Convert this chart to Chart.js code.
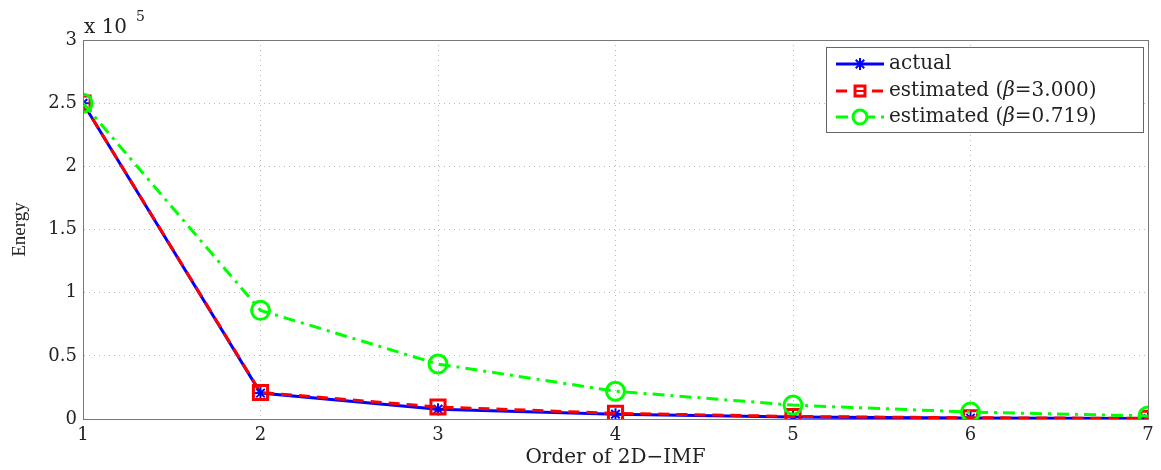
<!DOCTYPE html>
<html>
<head>
<meta charset="utf-8">
<script src="https://cdn.jsdelivr.net/npm/chart.js@4.4.0/dist/chart.umd.min.js"></script>
<style>
  html, body { margin: 0; padding: 0; background: #fff; }
  #wrap { width: 1161px; height: 470px; }
</style>
</head>
<body>
<div id="wrap"><canvas id="energyChart"></canvas></div>
<script>
const orders = [1, 2, 3, 4, 5, 6, 7];
const actual = [250000, 20500, 7800, 3800, 1500, 700, 300];
const estBeta3 = [250000, 21000, 9500, 4500, 2000, 1000, 500];
const estBeta0719 = [250000, 86000, 43500, 22000, 11000, 5500, 2400];
const yTickLabels = ['0', '0.5', '1', '1.5', '2', '2.5', '3'];
const legendTexts = [
  ['actual'],
  ['estimated (', 'β', '=3.000)'],
  ['estimated (', 'β', '=0.719)']
];

const FONT = 'DejaVu Serif';
const toPts = arr => arr.map((v, i) => ({ x: orders[i], y: v }));

const seriesStyle = [
  { color: '#0000ff', dash: [], point: 'star', radius: 6, pw: 2 },
  { color: '#ff0000', dash: [11, 7], point: 'rect', radius: 10, pw: 3 },
  { color: '#00ff00', dash: [12, 6, 3, 6], point: 'circle', radius: 9, pw: 3 }
];

// legend + exponent label, drawn on top of the plot
const extras = {
  id: 'extras',
  afterDraw(chart) {
    const ctx = chart.ctx;
    const area = chart.chartArea;
    ctx.save();
    ctx.fillStyle = '#222';
    ctx.textBaseline = 'alphabetic';
    ctx.font = `20px "${FONT}"`;
    ctx.fillText('x 10', area.left + 1, 33);
    ctx.font = `14px "${FONT}"`;
    ctx.fillText('5', area.left + 53, 21);

    // legend box
    const bx = 826, by = 47, bw = 317, bh = 85;
    ctx.fillStyle = '#fff';
    ctx.fillRect(bx, by, bw, bh);
    ctx.strokeStyle = '#666';
    ctx.lineWidth = 1;
    ctx.strokeRect(bx + 0.5, by + 0.5, bw, bh);

    const rowY = [64, 91, 117];
    const legendRadius = [6, 7, 7];
    legendTexts.forEach((parts, i) => {
      const s = seriesStyle[i];
      const y = rowY[i];
      ctx.strokeStyle = s.color;
      ctx.lineWidth = 3;
      ctx.setLineDash(s.dash);
      ctx.beginPath();
      ctx.moveTo(836, y);
      ctx.lineTo(884, y);
      ctx.stroke();
      ctx.setLineDash([]);
      ctx.fillStyle = '#fff';
      ctx.strokeStyle = s.color;
      ctx.lineWidth = s.pw;
      Chart.helpers.drawPoint(ctx, {
        pointStyle: s.point, radius: legendRadius[i], rotation: 0, borderWidth: s.pw
      }, 860, y);
      if (i === 1) {
        ctx.lineWidth = 2;
        ctx.beginPath(); ctx.moveTo(856, y); ctx.lineTo(864, y); ctx.stroke();
      }
      let tx = 889;
      ctx.fillStyle = '#222';
      ctx.textBaseline = 'middle';
      parts.forEach((p, k) => {
        ctx.font = (k === 1 ? 'italic ' : '') + `20px "${FONT}"`;
        ctx.fillText(p, tx, y);
        tx += ctx.measureText(p).width;
      });
    });
    ctx.restore();
  }
};

const frame = {
  id: 'frame',
  afterDatasetsDraw(chart) {
    const { ctx, chartArea: a } = chart;
    ctx.save();
    ctx.strokeStyle = '#777';
    ctx.lineWidth = 1;
    ctx.strokeRect(a.left + 0.5, a.top + 0.5, a.right - a.left, a.bottom - a.top);
    ctx.restore();
  }
};

const makeSet = (label, data, s, order) => ({
  label: label,
  data: toPts(data),
  borderColor: s.color,
  backgroundColor: 'transparent',
  borderWidth: 3,
  borderDash: s.dash,
  pointStyle: s.point,
  pointRadius: s.radius,
  pointBorderColor: s.color,
  pointBorderWidth: s.pw,
  pointBackgroundColor: 'transparent',
  tension: 0,
  order: order
});

new Chart(document.getElementById('energyChart'), {
  type: 'line',
  data: {
    datasets: [
      makeSet('actual', actual, seriesStyle[0], 3),
      makeSet('estimated (β=3.000)', estBeta3, seriesStyle[1], 2),
      makeSet('estimated (β=0.719)', estBeta0719, seriesStyle[2], 1)
    ]
  },
  options: {
    responsive: true,
    maintainAspectRatio: false,
    animation: false,
    layout: { padding: { top: 40, right: 9, left: 0, bottom: 0 } },
    plugins: { legend: { display: false }, tooltip: { enabled: false } },
    scales: {
      x: {
        type: 'linear',
        min: 1, max: 7,
        afterFit: s => { s.height = 51; },
        ticks: { stepSize: 1, color: '#222', padding: 6, font: { family: FONT, size: 18 } },
        grid: { color: '#b8b8b8', drawTicks: false },
        border: { display: true, color: '#777', width: 1, dash: [1, 4] },
        title: { display: true, text: 'Order of 2D\u2212IMF', color: '#222', padding: { top: 0, bottom: 0 },
          font: { family: FONT, size: 20 } }
      },
      y: {
        min: 0, max: 300000,
        afterFit: s => { s.width = 83; },
        afterBuildTicks: s => { s.ticks = yTickLabels.map((t, i) => ({ value: i * 50000 })); },
        ticks: { color: '#222', padding: 6, font: { family: FONT, size: 18 },
          callback: (v, i) => yTickLabels[i] },
        grid: { color: '#b8b8b8', drawTicks: false },
        border: { display: true, color: '#777', width: 1, dash: [1, 4] },
        title: { display: true, text: 'Energy', color: '#222', padding: { top: 9, bottom: 0 },
          font: { family: 'Liberation Serif', size: 19 } }
      }
    }
  },
  plugins: [frame, extras]
});
</script>
</body>
</html>
